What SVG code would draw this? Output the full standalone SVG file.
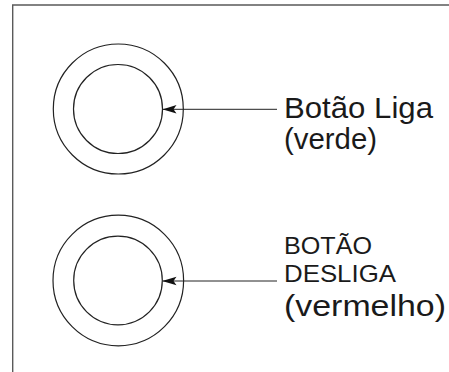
<svg xmlns="http://www.w3.org/2000/svg" width="449" height="372" viewBox="0 0 449 372">
  <style>
    .frame { fill: none; stroke: #5a5a5a; stroke-width: 1.4; }
    .ring { fill: none; stroke: #222; stroke-width: 1.2; }
    .leader { fill: none; stroke: #222; stroke-width: 1; }
    .label { font-family: "Liberation Sans", Arial, sans-serif; fill: #1a1a1a; }
  </style>
  <defs>
    <marker id="head" markerUnits="userSpaceOnUse" markerWidth="14" markerHeight="10" refX="14" refY="5" orient="auto" viewBox="0 0 14 10">
      <path d="M14,5 L0,0.8 L3,5 L0,9.2 Z" fill="#111"/>
    </marker>
  </defs>

  <!-- panel border (top and left edges) -->
  <path class="frame" d="M12.7,372 L12.7,5 L449,5"/>

  <g id="botao-liga">
    <circle class="ring" cx="118.3" cy="109" r="65"/>
    <circle class="ring" cx="118" cy="109" r="44.5"/>
  </g>

  <g id="botao-desliga">
    <circle class="ring" cx="118.3" cy="280.5" r="65.3"/>
    <circle class="ring" cx="118" cy="280.5" r="44.3"/>
  </g>

  <g id="connectors">
    <line class="leader" x1="277" y1="109.3" x2="162.5" y2="109.3" marker-end="url(#head)"/>
    <line class="leader" x1="277" y1="281" x2="162.5" y2="281" marker-end="url(#head)"/>
  </g>

  <g id="label-liga">
    <text class="label" x="284" y="117.5" font-size="29" textLength="149" lengthAdjust="spacingAndGlyphs">Botão Liga</text>
    <text class="label" x="284" y="149" font-size="29" textLength="93" lengthAdjust="spacingAndGlyphs">(verde)</text>
  </g>

  <g id="label-desliga">
    <text class="label" x="284" y="253.5" font-size="24" textLength="88" lengthAdjust="spacingAndGlyphs">BOTÃO</text>
    <text class="label" x="284" y="281.5" font-size="24" textLength="112" lengthAdjust="spacingAndGlyphs">DESLIGA</text>
    <text class="label" x="284" y="316" font-size="29" textLength="162" lengthAdjust="spacingAndGlyphs">(vermelho)</text>
  </g>
</svg>
